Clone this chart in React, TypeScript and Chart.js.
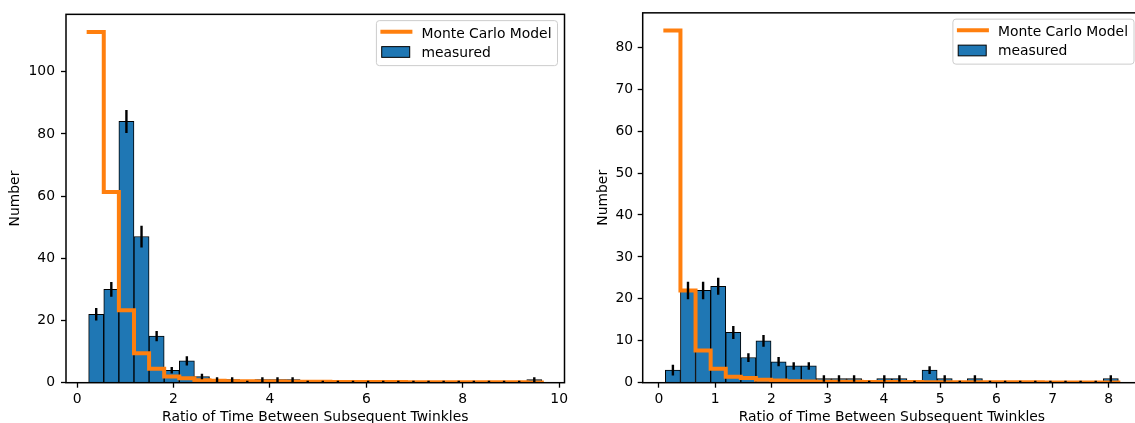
import React, { useEffect, useRef } from "react";
import { Chart, registerables } from "chart.js";

Chart.register(...registerables);

// ---------------- data ----------------
const xTitle = "Ratio of Time Between Subsequent Twinkles";
const yTitle = "Number";
const modelLabel = "Monte Carlo Model";
const measuredLabel = "measured";

// left panel
const leftBinRange = [0.24, 9.64];
const leftCounts = [22, 30, 84, 47, 15, 4, 7, 2, 1, 1, 0, 1, 1, 1, 0, 0, 0, 0, 0, 0, 0, 0, 0, 0, 0, 0, 0, 0, 0, 1];
const leftErrors = [2.0, 2.4, 3.7, 3.5, 1.65, 1.05, 1.5, 0.9, 0.75, 0.75, 0.6, 0.75, 0.75, 0.75, 0.6, 0.6, 0.6, 0.6, 0.6, 0.6, 0.6, 0.6, 0.6, 0.6, 0.6, 0.6, 0.6, 0.6, 0.6, 0.75];
const leftModel = [112.8, 61.3, 23.3, 9.5, 4.5, 2.0, 1.4, 0.8, 0.6, 0.5, 0.45, 0.4, 0.35, 0.32, 0.3, 0.28, 0.26, 0.24, 0.22, 0.2, 0.19, 0.18, 0.17, 0.16, 0.15, 0.14, 0.13, 0.12, 0.11, 0.1];
const leftXStep = 2;
const leftYStep = 20;

// right panel
const rightBinRange = [0.113, 8.17];
const rightCounts = [3, 22, 22, 23, 12, 6, 10, 5, 4, 4, 1, 1, 1, 0, 1, 1, 0, 3, 1, 0, 1, 0, 0, 0, 0, 0, 0, 0, 0, 1];
const rightErrors = [1.27, 2.1, 2.1, 2.0, 1.55, 1.05, 1.4, 1.1, 0.9, 0.9, 0.75, 0.75, 0.75, 0.45, 0.75, 0.75, 0.45, 0.9, 0.75, 0.45, 0.75, 0.45, 0.45, 0.45, 0.45, 0.45, 0.45, 0.45, 0.45, 0.75];
const rightModel = [84.0, 22.0, 7.7, 3.3, 1.4, 1.1, 0.7, 0.5, 0.35, 0.3, 0.25, 0.22, 0.2, 0.18, 0.16, 0.15, 0.14, 0.13, 0.12, 0.11, 0.1, 0.09, 0.09, 0.08, 0.08, 0.07, 0.07, 0.06, 0.06, 0.05];
const rightXStep = 1;
const rightYStep = 10;

// ---------------- style ----------------
const FONT = '"DejaVu Sans", "Liberation Sans", sans-serif';
const FONT_PX = 13.9;
const BLUE = "#1f77b4";
const ORANGE = "#ff7f0e";
const CANVAS_H = 430;
const PLOT_TOP = 11;
const PLOT_BOTTOM = 382.7;

const errorSpinePlugin = {
  id: "errSpines",
  afterDatasetsDraw(chart: any, _args: any, opts: any) {
    const { ctx, chartArea, scales } = chart;
    const { centers, counts, errors } = opts;
    ctx.save();
    ctx.beginPath();
    ctx.rect(chartArea.left, chartArea.top, chartArea.right - chartArea.left, chartArea.bottom - chartArea.top);
    ctx.clip();
    ctx.strokeStyle = "#000";
    ctx.lineWidth = 2.4;
    ctx.lineCap = "butt";
    for (let i = 0; i < counts.length; i++) {
      const x = scales.x.getPixelForValue(centers[i]);
      const y1 = scales.y.getPixelForValue(counts[i] - errors[i]);
      const y2 = scales.y.getPixelForValue(counts[i] + errors[i]);
      ctx.beginPath();
      ctx.moveTo(x, y1);
      ctx.lineTo(x, y2);
      ctx.stroke();
    }
    ctx.restore();
    ctx.save();
    ctx.strokeStyle = "#000";
    ctx.lineWidth = 1.5;
    ctx.strokeRect(chartArea.left, chartArea.top, chartArea.right - chartArea.left, chartArea.bottom - chartArea.top);
    ctx.restore();
  },
  afterDraw(chart: any) {
    const { ctx, chartArea } = chart;
    ctx.save();
    ctx.font = `${FONT_PX}px ${FONT}`;
    const tw = Math.max(ctx.measureText(modelLabel).width, ctx.measureText(measuredLabel).width);
    const bw = 45 + tw + 6;
    const bh = 45;
    const bx = chartArea.right - 7 - bw;
    const by = chartArea.top + 6.3;
    ctx.beginPath();
    if (ctx.roundRect) ctx.roundRect(bx, by, bw, bh, 3);
    else ctx.rect(bx, by, bw, bh);
    ctx.fillStyle = "rgba(255,255,255,0.8)";
    ctx.fill();
    ctx.strokeStyle = "#cccccc";
    ctx.lineWidth = 1;
    ctx.stroke();
    ctx.strokeStyle = ORANGE;
    ctx.lineWidth = 4;
    ctx.beginPath();
    ctx.moveTo(bx + 4, by + 11);
    ctx.lineTo(bx + 36, by + 11);
    ctx.stroke();
    ctx.fillStyle = BLUE;
    ctx.fillRect(bx + 5.3, by + 26, 28, 10.7);
    ctx.strokeStyle = "#000";
    ctx.lineWidth = 1;
    ctx.strokeRect(bx + 5.3, by + 26, 28, 10.7);
    ctx.fillStyle = "#000";
    ctx.textBaseline = "middle";
    ctx.textAlign = "left";
    ctx.fillText(modelLabel, bx + 45, by + 13.5);
    ctx.fillText(measuredLabel, bx + 45, by + 32.5);
    ctx.restore();
  },
};

type HistProps = {
  canvasLeft: number;
  canvasWidth: number;
  plotLeft: number;
  plotRight: number;
  binRange: number[];
  counts: number[];
  errors: number[];
  model: number[];
  xStep: number;
  yStep: number;
  yTickPad: number;
  yTitlePad: number;
};

function Hist(p: HistProps) {
  const ref = useRef<HTMLCanvasElement>(null);
  useEffect(() => {
    if (!ref.current) return;
    const n = p.counts.length;
    const [lo, hi] = p.binRange;
    const w = (hi - lo) / n;
    const centers = p.counts.map((_, i) => lo + (i + 0.5) * w);
    const barData = p.counts.map((c, i) => ({ x: centers[i], y: c }));
    const lineData = p.model.map((m, i) => ({ x: lo + i * w, y: m }));
    lineData.push({ x: hi, y: p.model[n - 1] });
    const span = hi - lo;
    const xMin = lo - 0.05 * span;
    const xMax = hi + 0.05 * span;
    const top = Math.max(...p.model, ...p.counts.map((c, i) => c + p.errors[i]));
    const yMax = 1.05 * top;
    const yWidth = p.plotLeft - p.canvasLeft;
    const padRight = p.canvasLeft + p.canvasWidth - p.plotRight;
    const xHeight = CANVAS_H - PLOT_BOTTOM;

    const font = { family: FONT, size: FONT_PX };
    const chart = new Chart(ref.current, {
      type: "bar",
      data: {
        datasets: [
          {
            type: "line",
            label: modelLabel,
            data: lineData,
            borderColor: ORANGE,
            borderWidth: 4,
            borderCapStyle: "square",
            borderJoinStyle: "miter",
            stepped: "before",
            pointRadius: 0,
            fill: false,
            order: 0,
          } as any,
          {
            type: "bar",
            label: measuredLabel,
            data: barData,
            backgroundColor: BLUE,
            borderColor: "#000",
            borderWidth: 1,
            barPercentage: 1,
            categoryPercentage: 1,
            order: 1,
          } as any,
        ],
      },
      options: {
        responsive: false,
        animation: false,
        events: [],
        layout: { padding: { top: PLOT_TOP, right: padRight, left: 0, bottom: 0 } },
        plugins: {
          legend: { display: false },
          tooltip: { enabled: false },
          errSpines: { centers, counts: p.counts, errors: p.errors },
        } as any,
        scales: {
          x: {
            type: "linear",
            min: xMin,
            max: xMax,
            offset: false,
            grid: { display: true, drawOnChartArea: false, offset: false, tickLength: 5, tickWidth: 1.3, tickColor: "#000" },
            border: { display: false },
            ticks: { stepSize: p.xStep, includeBounds: false, color: "#000", font, padding: 3, maxRotation: 0 },
            title: { display: true, text: xTitle, color: "#000", font, padding: { top: 0, bottom: 4.3 } },
            afterFit: (s: any) => {
              s.height = xHeight;
            },
          },
          y: {
            type: "linear",
            min: 0,
            max: yMax,
            grid: { display: true, drawOnChartArea: false, tickLength: 5, tickWidth: 1.3, tickColor: "#000" },
            border: { display: false },
            ticks: { stepSize: p.yStep, includeBounds: false, color: "#000", font, padding: p.yTickPad },
            title: { display: true, text: yTitle, color: "#000", font, padding: { top: p.yTitlePad, bottom: 0 } },
            afterFit: (s: any) => {
              s.width = yWidth;
            },
          },
        },
      } as any,
      plugins: [errorSpinePlugin],
    });
    return () => chart.destroy();
  }, []);
  return (
    <canvas
      ref={ref}
      width={p.canvasWidth}
      height={CANVAS_H}
      style={{ position: "absolute", left: p.canvasLeft, top: 0, width: p.canvasWidth, height: CANVAS_H }}
    />
  );
}

export default function App() {
  return (
    <div
      style={{
        position: "absolute",
        left: 0,
        top: 0,
        width: 1135,
        height: 423,
        overflow: "hidden",
        background: "#fff",
      }}
    >
      <Hist
        canvasLeft={0}
        canvasWidth={590}
        plotLeft={66}
        plotRight={564.5}
        binRange={leftBinRange}
        counts={leftCounts}
        errors={leftErrors}
        model={leftModel}
        xStep={leftXStep}
        yStep={leftYStep}
        yTickPad={6}
        yTitlePad={7.2}
      />
      <Hist
        canvasLeft={590}
        canvasWidth={570}
        plotLeft={642.7}
        plotRight={1141}
        binRange={rightBinRange}
        counts={rightCounts}
        errors={rightErrors}
        model={rightModel}
        xStep={rightXStep}
        yStep={rightYStep}
        yTickPad={4.5}
        yTitlePad={4.7}
      />
    </div>
  );
}
